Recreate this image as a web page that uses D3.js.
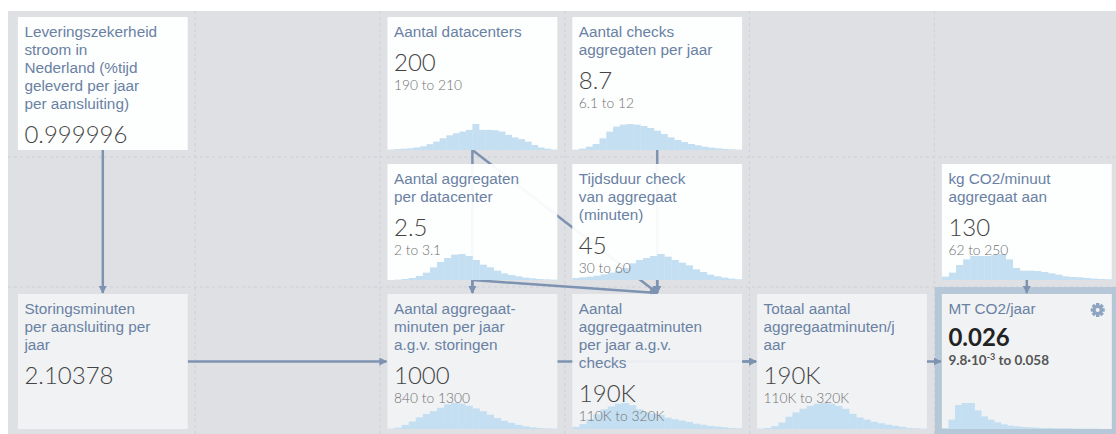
<html>
<head>
  <script src="https://d3js.org/d3.v7.min.js"></script>
  <style>
    body { margin: 0; background: #fff; }
    .title { font-family: "Liberation Sans", Arial, sans-serif; font-size: 15.3px; fill: #6a81a3; }
    .value { font-family: "Lato Light", Lato, sans-serif; font-weight: 300; font-size: 24px; fill: #444; }
    .range { font-family: "Lato Light", Lato, sans-serif; font-weight: 300; font-size: 13.8px; fill: #707070; }
    .selected .value { font-family: Lato, sans-serif; font-weight: 700; fill: #222; }
    .selected .range { font-family: Lato, sans-serif; font-weight: 700; font-size: 13.5px; fill: #555; }
  </style>
</head>
<body>
  <svg id="model" width="1116" height="434"></svg>
  <script>
    // cells of the model
    const ids = ["lev", "dc", "chk", "agg", "dur", "kg", "sto", "ams", "amc", "tot", "mt"];
    const titles = [
      "Leveringszekerheid\nstroom in\nNederland (%tijd\ngeleverd per jaar\nper aansluiting)",
      "Aantal datacenters",
      "Aantal checks\naggregaten per jaar",
      "Aantal aggregaten\nper datacenter",
      "Tijdsduur check\nvan aggregaat\n(minuten)",
      "kg CO2/minuut\naggregaat aan",
      "Storingsminuten\nper aansluiting per\njaar",
      "Aantal aggregaat-\nminuten per jaar\na.g.v. storingen",
      "Aantal\naggregaatminuten\nper jaar a.g.v.\nchecks",
      "Totaal aantal\naggregaatminuten/j\naar",
      "MT CO2/jaar"
    ];
    const values = ["0.999996", "200", "8.7", "2.5", "45", "130", "2.10378", "1000", "190K", "190K", "0.026"];
    const ranges = ["", "190 to 210", "6.1 to 12", "2 to 3.1", "30 to 60", "62 to 250", "", "840 to 1300", "110K to 320K", "110K to 320K", "9.8·10|-3| to 0.058"];
    const cols = [0, 2, 3, 2, 3, 5, 0, 2, 3, 4, 5];
    const rows = [0, 0, 0, 1, 1, 1, 2, 2, 2, 2, 2];
    const isFunction = [false, false, false, false, false, false, true, true, true, true, true];
    const selectedCell = "mt";

    // histogram bins (relative counts)
    const hists = {
      dc: [1, 2, 3, 4, 6, 9, 14, 20, 28, 35, 40, 44, 48, 62, 48, 48, 47, 44, 36, 30, 26, 20, 12, 6, 3, 1],
      chk: [1, 4, 10, 18, 35, 55, 70, 76, 78, 76, 72, 66, 58, 48, 38, 30, 24, 18, 14, 10, 7, 5, 3, 2, 1],
      agg: [0, 1, 3, 6, 12, 22, 38, 54, 66, 76, 78, 72, 60, 46, 38, 28, 20, 15, 11, 7, 5, 3, 2, 1],
      dur: [6, 8, 10, 13, 17, 22, 28, 36, 50, 60, 66, 72, 78, 70, 60, 52, 44, 32, 24, 16, 11, 7, 4, 2],
      kg: [10, 22, 45, 62, 72, 72, 72, 75, 78, 62, 36, 28, 28, 27, 24, 20, 16, 11, 9, 8, 6, 4, 3, 2],
      ams: [1, 4, 12, 22, 34, 44, 52, 62, 72, 76, 74, 68, 60, 52, 42, 32, 24, 18, 12, 8, 5, 3, 2, 1],
      amc: [6, 14, 28, 42, 56, 64, 72, 74, 68, 56, 48, 44, 40, 32, 28, 24, 20, 15, 12, 9, 7, 5, 3, 2],
      tot: [1, 3, 8, 18, 34, 46, 56, 64, 70, 72, 70, 64, 56, 42, 32, 26, 20, 16, 12, 9, 6, 3, 2, 1],
      mt: [3, 28, 72, 78, 78, 56, 38, 28, 20, 14, 10, 8, 6, 5, 4, 3, 3, 2, 2, 2, 1, 1, 1, 1, 0, 0]
    };

    // dependencies [from, to]
    const links = [
      ["lev", "sto"], ["sto", "ams"], ["dc", "ams"], ["dc", "amc"], ["agg", "ams"], ["agg", "amc"],
      ["chk", "amc"], ["dur", "amc"], ["ams", "tot"], ["amc", "tot"], ["tot", "mt"], ["kg", "mt"]
    ];

    const svg = d3.select("svg#model");
    const W = +svg.attr("width"), H = +svg.attr("height");

    // grid geometry
    const colLine = d3.scaleLinear().domain([0, 6]).range([10.4, 10.4 + 6 * 184.8]);
    const rowLines = [10, 157, 287, 436];
    const pad = 7.5;

    const cells = ids.map((id, i) => {
      const x0 = colLine(cols[i]) + pad, x1 = colLine(cols[i] + 1) - pad;
      const y0 = rowLines[rows[i]] + 7, y1 = rowLines[rows[i] + 1] - 7;
      return { id, i, x0, x1, y0, y1, cx: (x0 + x1) / 2, cy: (y0 + y1) / 2 };
    });
    const byId = {};
    cells.forEach(c => byId[c.id] = c);

    // background
    svg.append("rect").attr("x", 8).attr("y", 11).attr("width", W - 8).attr("height", H - 11).attr("fill", "#dfe0e4");

    const grid = svg.append("g").attr("stroke", "#cdd0d6").attr("stroke-dasharray", "3,3").attr("stroke-width", 1);
    d3.range(1, 6).forEach(k => {
      grid.append("line").attr("x1", colLine(k)).attr("x2", colLine(k)).attr("y1", 11).attr("y2", H);
    });
    [157, 287].forEach(y => {
      grid.append("line").attr("x1", 8).attr("x2", W).attr("y1", y).attr("y2", y);
    });

    // selected cell border
    const sel = byId[selectedCell];
    svg.append("rect")
      .attr("x", sel.x0 - 3.5).attr("y", sel.y0 - 3.5)
      .attr("width", sel.x1 - sel.x0 + 7).attr("height", sel.y1 - sel.y0 + 7)
      .attr("fill", "none").attr("stroke", "#b6c7d7").attr("stroke-width", 7);

    // arrows
    const arrowColor = "#7d93b1";
    svg.append("defs").append("marker")
      .attr("id", "head").attr("viewBox", "0 0 10 10").attr("refX", 9).attr("refY", 5)
      .attr("markerWidth", 3.2).attr("markerHeight", 3.2).attr("orient", "auto")
      .append("path").attr("d", "M0,0 L10,5 L0,10 z").attr("fill", arrowColor);

    const arrowG = svg.append("g");
    links.forEach(([a, b]) => {
      const s = byId[a], t = byId[b];
      let p;
      if (rows[s.i] === rows[t.i]) {
        p = [s.x1, s.cy, t.x0 - 1, t.cy];
      } else {
        p = [s.cx, s.y1, t.cx, t.y0 - 1];
      }
      arrowG.append("line")
        .attr("x1", p[0]).attr("y1", p[1]).attr("x2", p[2]).attr("y2", p[3])
        .attr("stroke", arrowColor).attr("stroke-width", 2.5)
        .attr("marker-end", "url(#head)");
    });

    // cells
    const histH = 26;
    cells.forEach(c => {
      const g = svg.append("g").attr("class", c.id === selectedCell ? "cell selected" : "cell");
      g.append("rect")
        .attr("x", c.x0).attr("y", c.y0).attr("width", c.x1 - c.x0).attr("height", c.y1 - c.y0)
        .attr("fill", isFunction[c.i] ? "#f1f2f4" : "#ffffff").attr("fill-opacity", 0.94);

      const bins = hists[c.id];
      if (bins) {
        const x = d3.scaleBand().domain(d3.range(bins.length)).range([c.x0, c.x1]);
        const y = d3.scaleLinear().domain([0, d3.max(bins)]).range([0, histH]);
        g.append("g").selectAll("rect").data(bins).join("rect")
          .attr("x", (d, k) => x(k)).attr("width", x.bandwidth() + 0.4)
          .attr("y", d => c.y1 - y(d)).attr("height", d => y(d))
          .attr("fill", "#c5dff2");
      }

      const lines = titles[c.i].split("\n");
      const tx = c.x0 + 6.5;
      const t = g.append("text").attr("class", "title");
      lines.forEach((l, k) => {
        t.append("tspan").attr("x", tx).attr("y", c.y0 + 20 + k * 18).text(l);
      });
      const lastY = c.y0 + 20 + (lines.length - 1) * 18;
      const vy = lastY + (c.id === selectedCell ? 32 : 34);
      g.append("text").attr("class", "value").attr("x", tx).attr("y", vy).text(values[c.i]);

      if (ranges[c.i]) {
        const parts = ranges[c.i].split("|");
        const r = g.append("text").attr("class", "range").attr("x", tx).attr("y", vy + 19);
        parts.forEach((s, k) => {
          const ts = r.append("tspan").text(s);
          if (k === 1) ts.attr("dy", -5).attr("font-size", "9px");
          if (k === 2) ts.attr("dy", 5);
        });
      }

      if (c.id === selectedCell) {
        // gear icon
        const gx = c.x1 - 14, gy = c.y0 + 16;
        const gear = g.append("g").attr("transform", `translate(${gx},${gy})`).attr("fill", "#8ea4c1");
        d3.range(4).forEach(k => {
          gear.append("rect").attr("x", -1.7).attr("y", -7).attr("width", 3.4).attr("height", 14)
            .attr("transform", `rotate(${k * 45})`);
        });
        gear.append("circle").attr("r", 5);
        gear.append("circle").attr("r", 2).attr("fill", "#f1f2f4");
      }
    });
  </script>
</body>
</html>
